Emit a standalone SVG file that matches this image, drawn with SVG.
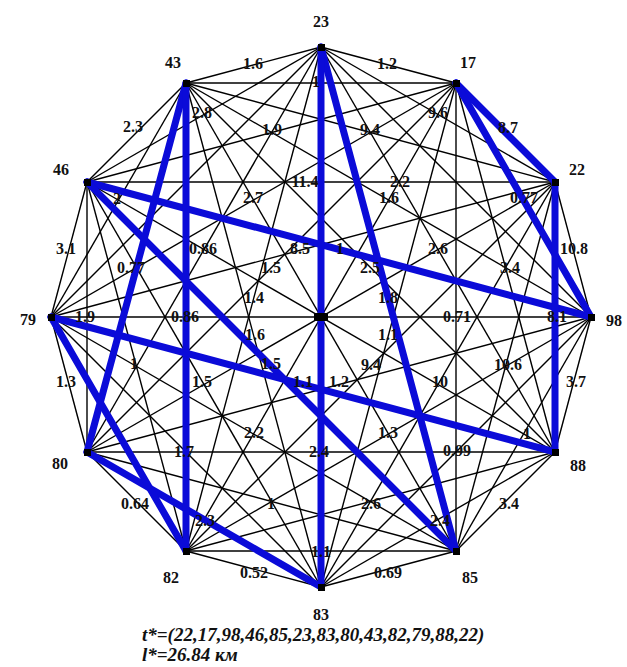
<svg xmlns="http://www.w3.org/2000/svg" width="627" height="667" viewBox="0 0 627 667">
<style>
.e{stroke:#000;stroke-width:1.4;fill:none}
.t{stroke:#0b0bd8;stroke-width:7;stroke-linecap:round;fill:none}
.n{fill:#000}
.nl{font-family:"Liberation Serif",serif;font-weight:bold;font-size:16px;fill:#111;text-anchor:middle}
.el{font-family:"Liberation Serif",serif;font-weight:bold;font-size:16px;fill:#111;text-anchor:middle}
.cap{font-family:"Liberation Serif",serif;font-weight:bold;font-style:italic;font-size:19px;fill:#111}
</style>
<rect width="627" height="667" fill="#fff"/>
<g id="edges">
<line class="e" x1="321" y1="47" x2="456" y2="83"/>
<line class="e" x1="321" y1="47" x2="555" y2="182"/>
<line class="e" x1="321" y1="47" x2="591" y2="317"/>
<line class="e" x1="321" y1="47" x2="555" y2="452"/>
<line class="e" x1="321" y1="47" x2="456" y2="551"/>
<line class="e" x1="321" y1="47" x2="321" y2="587"/>
<line class="e" x1="321" y1="47" x2="186" y2="551"/>
<line class="e" x1="321" y1="47" x2="87" y2="452"/>
<line class="e" x1="321" y1="47" x2="51" y2="317"/>
<line class="e" x1="321" y1="47" x2="87" y2="182"/>
<line class="e" x1="321" y1="47" x2="186" y2="83"/>
<line class="e" x1="456" y1="83" x2="555" y2="182"/>
<line class="e" x1="456" y1="83" x2="591" y2="317"/>
<line class="e" x1="456" y1="83" x2="555" y2="452"/>
<line class="e" x1="456" y1="83" x2="456" y2="551"/>
<line class="e" x1="456" y1="83" x2="321" y2="587"/>
<line class="e" x1="456" y1="83" x2="186" y2="551"/>
<line class="e" x1="456" y1="83" x2="87" y2="452"/>
<line class="e" x1="456" y1="83" x2="51" y2="317"/>
<line class="e" x1="456" y1="83" x2="87" y2="182"/>
<line class="e" x1="456" y1="83" x2="186" y2="83"/>
<line class="e" x1="555" y1="182" x2="591" y2="317"/>
<line class="e" x1="555" y1="182" x2="555" y2="452"/>
<line class="e" x1="555" y1="182" x2="456" y2="551"/>
<line class="e" x1="555" y1="182" x2="321" y2="587"/>
<line class="e" x1="555" y1="182" x2="186" y2="551"/>
<line class="e" x1="555" y1="182" x2="87" y2="452"/>
<line class="e" x1="555" y1="182" x2="51" y2="317"/>
<line class="e" x1="555" y1="182" x2="87" y2="182"/>
<line class="e" x1="555" y1="182" x2="186" y2="83"/>
<line class="e" x1="591" y1="317" x2="555" y2="452"/>
<line class="e" x1="591" y1="317" x2="456" y2="551"/>
<line class="e" x1="591" y1="317" x2="321" y2="587"/>
<line class="e" x1="591" y1="317" x2="186" y2="551"/>
<line class="e" x1="591" y1="317" x2="87" y2="452"/>
<line class="e" x1="591" y1="317" x2="51" y2="317"/>
<line class="e" x1="591" y1="317" x2="87" y2="182"/>
<line class="e" x1="591" y1="317" x2="186" y2="83"/>
<line class="e" x1="555" y1="452" x2="456" y2="551"/>
<line class="e" x1="555" y1="452" x2="321" y2="587"/>
<line class="e" x1="555" y1="452" x2="186" y2="551"/>
<line class="e" x1="555" y1="452" x2="87" y2="452"/>
<line class="e" x1="555" y1="452" x2="51" y2="317"/>
<line class="e" x1="555" y1="452" x2="87" y2="182"/>
<line class="e" x1="555" y1="452" x2="186" y2="83"/>
<line class="e" x1="456" y1="551" x2="321" y2="587"/>
<line class="e" x1="456" y1="551" x2="186" y2="551"/>
<line class="e" x1="456" y1="551" x2="87" y2="452"/>
<line class="e" x1="456" y1="551" x2="51" y2="317"/>
<line class="e" x1="456" y1="551" x2="87" y2="182"/>
<line class="e" x1="456" y1="551" x2="186" y2="83"/>
<line class="e" x1="321" y1="587" x2="186" y2="551"/>
<line class="e" x1="321" y1="587" x2="87" y2="452"/>
<line class="e" x1="321" y1="587" x2="51" y2="317"/>
<line class="e" x1="321" y1="587" x2="87" y2="182"/>
<line class="e" x1="321" y1="587" x2="186" y2="83"/>
<line class="e" x1="186" y1="551" x2="87" y2="452"/>
<line class="e" x1="186" y1="551" x2="51" y2="317"/>
<line class="e" x1="186" y1="551" x2="87" y2="182"/>
<line class="e" x1="186" y1="551" x2="186" y2="83"/>
<line class="e" x1="87" y1="452" x2="51" y2="317"/>
<line class="e" x1="87" y1="452" x2="87" y2="182"/>
<line class="e" x1="87" y1="452" x2="186" y2="83"/>
<line class="e" x1="51" y1="317" x2="87" y2="182"/>
<line class="e" x1="51" y1="317" x2="186" y2="83"/>
<line class="e" x1="87" y1="182" x2="186" y2="83"/>
</g>
<g id="tour">
<line class="t" x1="555" y1="182" x2="456" y2="83"/>
<line class="t" x1="456" y1="83" x2="591" y2="317"/>
<line class="t" x1="591" y1="317" x2="87" y2="182"/>
<line class="t" x1="87" y1="182" x2="456" y2="551"/>
<line class="t" x1="456" y1="551" x2="321" y2="47"/>
<line class="t" x1="321" y1="47" x2="321" y2="587"/>
<line class="t" x1="321" y1="587" x2="87" y2="452"/>
<line class="t" x1="87" y1="452" x2="186" y2="83"/>
<line class="t" x1="186" y1="83" x2="186" y2="551"/>
<line class="t" x1="186" y1="551" x2="51" y2="317"/>
<line class="t" x1="51" y1="317" x2="555" y2="452"/>
<line class="t" x1="555" y1="452" x2="555" y2="182"/>
</g>
<g id="edge-labels" class="el">
<text x="253" y="69">1.6</text>
<text x="387" y="69">1.2</text>
<text x="316" y="87">1</text>
<text x="202" y="118">2.8</text>
<text x="272" y="135">1.9</text>
<text x="370" y="135">9.4</text>
<text x="438" y="118">9.6</text>
<text x="133" y="132">2.3</text>
<text x="508" y="133">8.7</text>
<text x="305" y="187">11.4</text>
<text x="400" y="187">2.2</text>
<text x="117" y="204">2</text>
<text x="253" y="203">2.7</text>
<text x="389" y="203">1.6</text>
<text x="524" y="203">0.77</text>
<text x="66" y="254">3.1</text>
<text x="203" y="254">0.86</text>
<text x="300" y="254">8.5</text>
<text x="340" y="254">1</text>
<text x="438" y="254">2.6</text>
<text x="574" y="254">10.8</text>
<text x="131" y="273">0.77</text>
<text x="271" y="273">1.5</text>
<text x="370" y="273">2.5</text>
<text x="510" y="273">3.4</text>
<text x="254" y="303">1.4</text>
<text x="388" y="303">1.8</text>
<text x="85" y="322">1.9</text>
<text x="185" y="322">0.86</text>
<text x="457" y="322">0.71</text>
<text x="557" y="322">8.1</text>
<text x="255" y="340">1.6</text>
<text x="388" y="340">1.1</text>
<text x="271" y="369">1.5</text>
<text x="371" y="370">9.4</text>
<text x="508" y="370">10.6</text>
<text x="134" y="369">1</text>
<text x="66" y="387">1.3</text>
<text x="202" y="387">1.5</text>
<text x="303" y="387">1.1</text>
<text x="339" y="387">1.2</text>
<text x="440" y="387">10</text>
<text x="576" y="387">3.7</text>
<text x="254" y="438">2.2</text>
<text x="388" y="438">1.3</text>
<text x="527" y="439">1</text>
<text x="184" y="457">1.7</text>
<text x="319" y="457">2.4</text>
<text x="457" y="456">0.99</text>
<text x="135" y="509">0.64</text>
<text x="205" y="526">2.3</text>
<text x="271" y="509">1</text>
<text x="371" y="509">2.6</text>
<text x="509" y="509">3.4</text>
<text x="440" y="526">2.4</text>
<text x="321" y="557">1.1</text>
<text x="254" y="578">0.52</text>
<text x="388" y="578">0.69</text>
</g>
<rect x="314" y="313" width="14" height="8" fill="#000"/>
<g id="n23"><rect class="n" x="318" y="44" width="7" height="7"/><text class="nl" x="321" y="27">23</text></g>
<g id="n17"><rect class="n" x="453" y="80" width="7" height="7"/><text class="nl" x="468" y="68">17</text></g>
<g id="n22"><rect class="n" x="552" y="179" width="7" height="7"/><text class="nl" x="577" y="175">22</text></g>
<g id="n98"><rect class="n" x="588" y="314" width="7" height="7"/><text class="nl" x="614" y="326">98</text></g>
<g id="n88"><rect class="n" x="552" y="449" width="7" height="7"/><text class="nl" x="578" y="471">88</text></g>
<g id="n85"><rect class="n" x="453" y="548" width="7" height="7"/><text class="nl" x="470" y="583">85</text></g>
<g id="n83"><rect class="n" x="318" y="584" width="7" height="7"/><text class="nl" x="321" y="620">83</text></g>
<g id="n82"><rect class="n" x="183" y="548" width="7" height="7"/><text class="nl" x="171" y="583">82</text></g>
<g id="n80"><rect class="n" x="84" y="449" width="7" height="7"/><text class="nl" x="60" y="469">80</text></g>
<g id="n79"><rect class="n" x="48" y="314" width="7" height="7"/><text class="nl" x="28" y="325">79</text></g>
<g id="n46"><rect class="n" x="84" y="179" width="7" height="7"/><text class="nl" x="61" y="175">46</text></g>
<g id="n43"><rect class="n" x="183" y="80" width="7" height="7"/><text class="nl" x="173" y="68">43</text></g>
<text class="cap" x="142" y="641">t*=(22,17,98,46,85,23,83,80,43,82,79,88,22)</text>
<text class="cap" x="142" y="661">l*=26.84 км</text>
</svg>
